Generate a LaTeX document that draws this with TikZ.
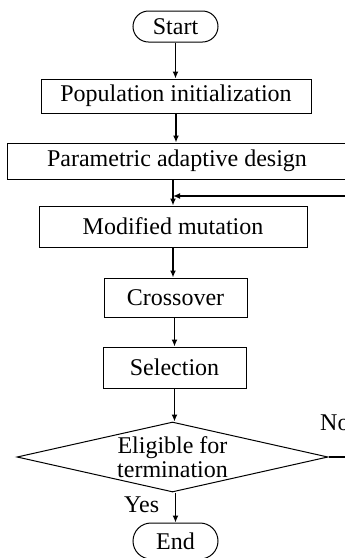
\documentclass[tikz,border=0pt]{standalone}
\usepackage{fontspec}
\setmainfont{Liberation Serif}
\usetikzlibrary{shapes.geometric,shapes.misc,arrows.meta}
\begin{document}
\begin{tikzpicture}[x=1pt,y=-1pt,
  every node/.style={font=\fontsize{24}{24}\selectfont, inner sep=0pt},
  stepbox/.style={draw, line width=1pt, rectangle},
  terminal/.style={draw, line width=1pt, rounded rectangle, minimum width=85pt},
  decision/.style={draw, line width=1pt, diamond, aspect=4.4, align=center},
  flow/.style={line width=1.4pt, -{Latex[length=7pt,width=6pt]}}]
\useasboundingbox (0,0) rectangle (345,558);
\clip (0,0) rectangle (345,558);
% process blocks
\node[terminal, minimum height=31pt] (start) at (175.5,26.5) {Start};
\node[stepbox, minimum width=270pt, minimum height=34pt] (init) at (176,96) {Population initialization};
\node[stepbox, minimum width=340pt, minimum height=36pt] (adapt) at (177,161) {Parametric adaptive design};
\node[stepbox, minimum width=268pt, minimum height=41pt] (mut) at (173,226.5) {Modified mutation};
\node[stepbox, minimum width=143pt, minimum height=39pt] (cross) at (175.5,297.5) {Crossover};
\node[stepbox, minimum width=143pt, minimum height=41pt] (sel) at (174.5,367.5) {Selection};
\node[decision, minimum width=311pt, minimum height=70pt] (term) at (172.5,457) {Eligible for\\termination};
\node[terminal, minimum height=36pt] (stop) at (175.5,541) {End};
% junction where the loop rejoins the main path
\coordinate (join) at (173,196);
\coordinate (outR) at (352,457);
\coordinate (backR) at (352,196);
% main path
\draw[flow] (start.south) -- (init.north -| start.south);
\draw[flow] (init.south) -- (adapt.north -| init.south);
\draw[flow] (adapt.south -| mut.north) -- (mut.north);
\draw[flow] (mut.south) -- (cross.north -| mut.south);
\draw[flow] (cross.south -| sel.north) -- (sel.north);
\draw[flow] (sel.south) -- (term.north -| sel.south);
\draw[flow] (term.south -| stop.north) -- (stop.north);
% loop back when termination is not reached
\draw[line width=1.4pt] (term.east) -- (outR);
\draw[flow] (backR) -- (join);
% branch labels
\node[anchor=base west] (no) at (320,430) {No};
\node[anchor=base west] (yes) at (124,512) {Yes};
\end{tikzpicture}
\end{document}
